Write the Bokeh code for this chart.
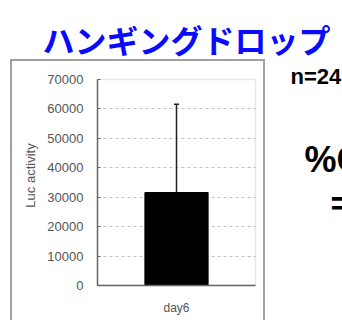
from bokeh.plotting import figure
from bokeh.models import (Label, Title, Whisker, ColumnDataSource, TeeHead,
                          Range1d, FixedTicker, BoxAnnotation, Grid)
from bokeh.embed import file_html
from bokeh.resources import INLINE

# ---- data ----
categories = ["day6"]
means = [31600]
sds = [30000]
y_ticks = [0, 10000, 20000, 30000, 40000, 50000, 60000, 70000]
title_text = "ハンギングドロップ"
n_text = "n=24"
cv_text = "%C"
eq_text = "="

# ---- layout (window pixels; Bokeh's page template has no body margin) ----
W, H = 342, 320
OFF = 0
FRAME_L, FRAME_T, FRAME_B = 97, 65, 285      # plot frame in window coords
FRAME_R = OFF + W
CHART_R, CHART_T = 255, 79                    # inner chart box right / top
x_end = (FRAME_R - FRAME_L) / (CHART_R - FRAME_L) * len(categories)
y_max = y_ticks[-1]
y_end = y_max * (FRAME_B - FRAME_T) / (FRAME_B - CHART_T)

xs = [i + 0.5 for i in range(len(categories))]
upper = [m + s for m, s in zip(means, sds)]

p = figure(width=W, height=H, output_backend="svg", toolbar_location=None,
           x_range=Range1d(0, x_end), y_range=Range1d(0, y_end),
           min_border_left=FRAME_L - OFF, min_border_right=0,
           min_border_top=FRAME_T - OFF, min_border_bottom=H - (FRAME_B - OFF))
p.background_fill_color = None
p.border_fill_color = None
p.outline_line_color = None

# slide frame drawn behind the (transparent) canvas
p.styles = {
    "background-color": "white",
    "background-image": "linear-gradient(#a0a0a0,#a0a0a0), linear-gradient(#a0a0a0,#a0a0a0), linear-gradient(#a0a0a0,#a0a0a0)",
    "background-size": "255px 2px, 2px 280px, 2px 280px",
    "background-position": "10px 59px, 10px 59px, 263px 59px",
    "background-repeat": "no-repeat",
}

# grid
p.xgrid.visible = False
p.ygrid.ticker = FixedTicker(ticks=y_ticks[1:-1])
p.ygrid.grid_line_dash = "3 3"
p.ygrid.grid_line_color = "#c0c0c0"
if "cross_bounds" in Grid.properties():
    p.ygrid.cross_bounds = (0, len(categories))
else:
    p.ygrid.visible = False
    p.segment(x0=[0] * (len(y_ticks) - 2), x1=[len(categories)] * (len(y_ticks) - 2),
              y0=y_ticks[1:-1], y1=y_ticks[1:-1], line_color="#c0c0c0", line_dash="3 3")

# inner chart box (top and right borders)
p.add_layout(BoxAnnotation(left=0, right=len(categories), bottom=0, top=y_max,
                           fill_alpha=0, line_color="#b0b0b0", line_width=1.5, level="underlay"))

p.vbar(x=xs, top=means, width=0.4, color="black")
src = ColumnDataSource(dict(base=xs, lower=means, upper=upper))
p.add_layout(Whisker(source=src, base="base", lower="lower", upper="upper",
                     dimension="height", line_color="#222222", line_width=1.5,
                     upper_head=TeeHead(size=5, line_color="#222222", line_width=1.5),
                     lower_head=None))

# axes
for ax in (p.xaxis[0], p.yaxis[0]):
    ax.axis_line_color = "#666666"
    ax.axis_line_width = 1.5
    ax.major_label_text_font = "Liberation Sans"
    ax.major_label_text_font_size = "13px"
    ax.major_label_text_color = "#555555"
    ax.minor_tick_line_color = None

p.yaxis.ticker = FixedTicker(ticks=y_ticks)
p.yaxis.bounds = (0, y_max)
p.yaxis.major_tick_in = 3
p.yaxis.major_tick_out = 0
p.yaxis.major_tick_line_color = "#666666"
p.yaxis.major_label_standoff = 14
p.yaxis.axis_label = "Luc activity"
p.yaxis.axis_label_text_font = "Liberation Sans"
p.yaxis.axis_label_text_font_style = "normal"
p.yaxis.axis_label_text_font_size = "13px"
p.yaxis.axis_label_text_color = "#555555"
p.yaxis.axis_label_standoff = 6

p.xaxis.ticker = FixedTicker(ticks=xs)
p.xaxis.major_label_overrides = {x: c for x, c in zip(xs, categories)}
p.xaxis.bounds = (0, len(categories))
p.xaxis.major_tick_line_color = None
p.xaxis.major_tick_in = 0
p.xaxis.major_tick_out = 0
p.xaxis.major_label_text_font_size = "12px"
p.xaxis.major_label_standoff = 15

# title (above panel)
p.add_layout(Title(text=title_text, align="left", offset=42 - FRAME_L, standoff=8,
                   text_font="Noto Sans CJK JP", text_font_style="bold",
                   text_font_size="32px", text_color="#0a0aff"), "above")

# texts inside frame: window coords -> frame screen units
def fx(X):
    return X - FRAME_L

def fy(Y):
    return FRAME_B - Y

p.add_layout(Label(x=fx(290), y=fy(76), x_units="screen", y_units="screen",
                   text=n_text, text_font="Liberation Sans", text_font_style="bold",
                   text_font_size="22px", text_color="black", text_baseline="middle"))
p.add_layout(Label(x=fx(304), y=fy(159), x_units="screen", y_units="screen",
                   text=cv_text, text_font="Liberation Sans", text_font_style="bold",
                   text_font_size="36px", text_color="black", text_baseline="middle"))
p.add_layout(Label(x=fx(330), y=fy(202), x_units="screen", y_units="screen",
                   text=eq_text, text_font="Liberation Sans", text_font_style="bold",
                   text_font_size="34px", text_color="black", text_baseline="middle"))

open("out.html", "w").write(file_html(p, INLINE))
